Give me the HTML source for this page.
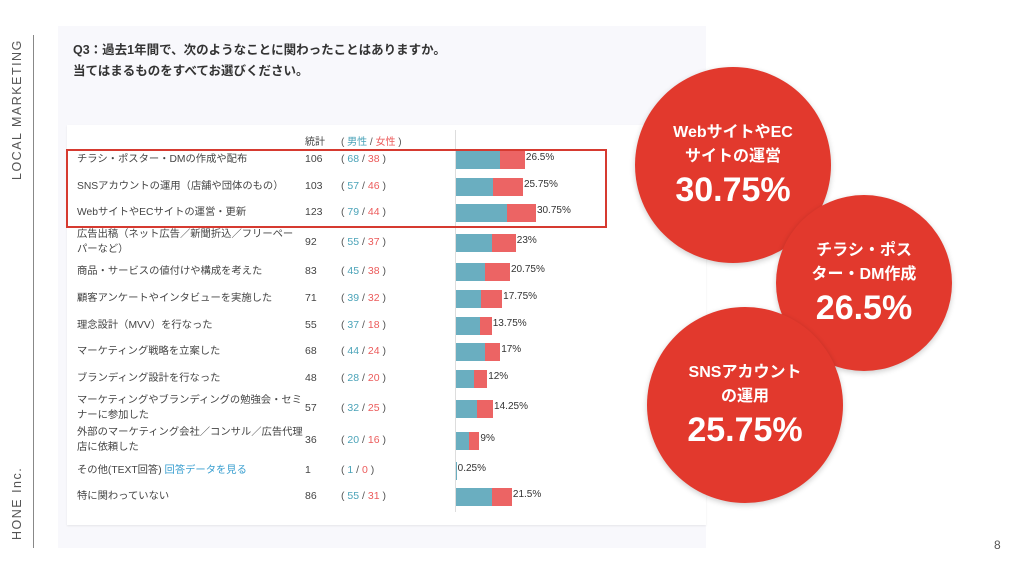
<!DOCTYPE html>
<html><head><meta charset="utf-8"><style>
*{margin:0;padding:0;box-sizing:border-box}
body{width:1024px;height:575px;background:#fff;position:relative;overflow:hidden;font-family:"Liberation Sans","Noto Sans CJK JP",sans-serif;color:#444}
.abs{position:absolute}
.panel{left:58px;top:26px;width:648px;height:522px;background:#f8f8fc}
.card{left:67px;top:125px;width:639px;height:400px;background:#fff;box-shadow:0 1px 2px rgba(0,0,0,.08)}
.q{left:73px;top:40px;font-size:12.5px;font-weight:bold;color:#333;line-height:21px}
.lbl{font-size:10.3px;color:#444;line-height:15px;left:77px;width:230px}
.num{font-size:10.5px;left:305px}
.mf{font-size:10.5px;left:341px;color:#555}
.m{color:#4aa3b8}.f{color:#ec5b5b}
.bar{height:18px;display:flex;left:456px}
.bar .a{background:#6aaec0}.bar .b{background:#ec6464}
.pct{font-size:10px;color:#333}
.circle{border-radius:50%;background:#e2392d;color:#fff;text-align:center;font-weight:bold;display:flex;flex-direction:column;justify-content:center;align-items:center;box-shadow:0 2px 6px rgba(0,0,0,.2)}
</style></head><body>
<div class="abs" style="left:33px;top:35px;width:1px;height:513px;background:#888"></div>
<div class="abs" style="left:10px;top:180px;transform:rotate(-90deg);transform-origin:0 0;font-size:12.5px;letter-spacing:1.5px;color:#555;white-space:nowrap">LOCAL MARKETING</div>
<div class="abs" style="left:10px;top:540px;transform:rotate(-90deg);transform-origin:0 0;font-size:12.5px;letter-spacing:1.5px;color:#555;white-space:nowrap">HONE Inc.</div>
<div class="abs" style="left:994px;top:538px;font-size:12px;color:#555">8</div>
<div class="abs panel"></div>
<div class="abs q">Q3：過去1年間で、次のようなことに関わったことはありますか。<br>当てはまるものをすべてお選びください。</div>
<div class="abs card"></div>
<div class="abs" style="left:455px;top:130px;width:1px;height:382px;background:#ddd"></div>
<div class="abs num" style="top:133px;font-size:10px">統計</div>
<div class="abs mf" style="top:133px;font-size:10px">( <span class="m">男性</span> / <span class="f">女性</span> )</div>
<div class="abs" style="left:66px;top:149px;width:541px;height:79px;border:2px solid #d63a30"></div>
<div id="rows"></div>
<script>
const rows=[
["チラシ・ポスター・DMの作成や配布",106,68,38,"26.5%",160],
["SNSアカウントの運用（店舗や団体のもの）",103,57,46,"25.75%",187],
["WebサイトやECサイトの運営・更新",123,79,44,"30.75%",213],
["広告出稿（ネット広告／新聞折込／フリーペーパーなど）",92,55,37,"23%",243],
["商品・サービスの値付けや構成を考えた",83,45,38,"20.75%",272],
["顧客アンケートやインタビューを実施した",71,39,32,"17.75%",299],
["理念設計（MVV）を行なった",55,37,18,"13.75%",326],
["マーケティング戦略を立案した",68,44,24,"17%",352],
["ブランディング設計を行なった",48,28,20,"12%",379],
["マーケティングやブランディングの勉強会・セミナーに参加した",57,32,25,"14.25%",409],
["外部のマーケティング会社／コンサル／広告代理店に依頼した",36,20,16,"9%",441],
["その他(TEXT回答) <span style='color:#3a9fd0'>回答データを見る</span>",1,1,0,"0.25%",471],
["特に関わっていない",86,55,31,"21.5%",497]];
let h="";
for(const r of rows){const [t,n,m,f,p,y]=r;const two=t.length>24&&!t.includes("span");
const ty=two?y-16:y-8;
h+=`<div class="abs lbl" style="top:${ty}px;${two?'width:226px':''}">${t}</div>`;
h+=`<div class="abs num" style="top:${y-7}px">${n}</div>`;
h+=`<div class="abs mf" style="top:${y-7}px">( <span class="m">${m}</span> / <span class="f">${f}</span> )</div>`;
const w=n/4*2.6;const wa=w*m/n;
h+=`<div class="abs bar" style="top:${y-9}px;width:${Math.max(w,1)}px"><div class="a" style="width:${Math.max(wa,1)}px"></div><div class="b" style="flex:1"></div></div>`;
h+=`<div class="abs pct" style="left:${456+w+1}px;top:${y-8}px">${p}</div>`;}
document.getElementById("rows").innerHTML=h;
</script>
<div class="abs circle" style="left:635px;top:67px;width:196px;height:196px"><div style="font-size:16px;line-height:24px">WebサイトやEC<br>サイトの運営</div><div style="font-size:34px;margin-top:2px">30.75%</div></div>
<div class="abs circle" style="left:776px;top:195px;width:176px;height:176px"><div style="font-size:16px;line-height:24px">チラシ・ポス<br>ター・DM作成</div><div style="font-size:34px;margin-top:2px">26.5%</div></div>
<div class="abs circle" style="left:647px;top:307px;width:196px;height:196px"><div style="font-size:16px;line-height:24px">SNSアカウント<br>の運用</div><div style="font-size:34px;margin-top:2px">25.75%</div></div>
</body></html>
